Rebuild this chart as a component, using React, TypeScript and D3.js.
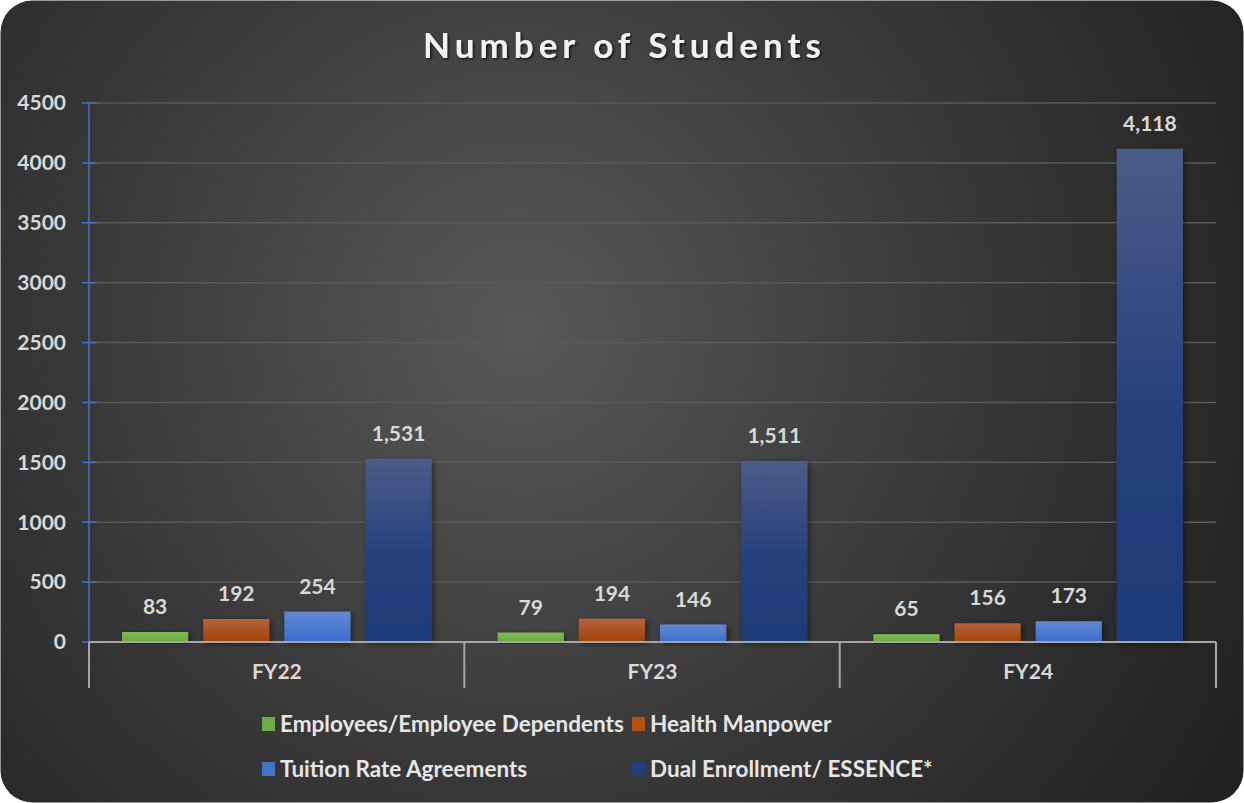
import React from "react";
import * as d3 from "d3";

const categories = ["FY22", "FY23", "FY24"];
const seriesNames = [
  "Employees/Employee Dependents",
  "Health Manpower",
  "Tuition Rate Agreements",
  "Dual Enrollment/ ESSENCE*",
];
const employees = [83, 79, 65];
const healthManpower = [192, 194, 156];
const tuition = [254, 146, 173];
const dualEnrollment = [1531, 1511, 4118];
const yTicks = [0, 500, 1000, 1500, 2000, 2500, 3000, 3500, 4000, 4500];

const seriesValues = [employees, healthManpower, tuition, dualEnrollment];
const gradIds = ["gGreen", "gOrange", "gBlue", "gNavy"];
const legendColors = ["#70ad47", "#b5520f", "#4472c4", "#203f7c"];

const W = 1244;
const H = 803;
const FONT = "Lato, 'Open Sans', sans-serif";

export default function App() {
  const x0 = d3.scaleBand().domain(categories).range([89, 1216]).paddingInner(0).paddingOuter(0);
  const x1 = d3
    .scaleBand()
    .domain(seriesNames)
    .range([33, x0.bandwidth() - 33])
    .paddingInner(0.185)
    .paddingOuter(0);
  const y = d3.scaleLinear().domain([0, 4500]).range([642, 103]);
  const fmt = d3.format(",");

  return (
    <svg
      width={W}
      height={H}
      style={{ position: "absolute", left: 0, top: 0, display: "block" }}
      fontFamily={FONT}
    >
      <defs>
        <radialGradient id="bg" cx="520" cy="330" r="820" gradientUnits="userSpaceOnUse">
          <stop offset="0" stopColor="#585858" />
          <stop offset="0.55" stopColor="#383838" />
          <stop offset="1" stopColor="#222222" />
        </radialGradient>
        <linearGradient id="gGreen" x1="0" y1="0" x2="0" y2="1">
          <stop offset="0" stopColor="#7fbb58" />
          <stop offset="1" stopColor="#6aa93c" />
        </linearGradient>
        <linearGradient id="gOrange" x1="0" y1="0" x2="0" y2="1">
          <stop offset="0" stopColor="#b4633d" />
          <stop offset="1" stopColor="#a24306" />
        </linearGradient>
        <linearGradient id="gBlue" x1="0" y1="0" x2="0" y2="1">
          <stop offset="0" stopColor="#6189d2" />
          <stop offset="1" stopColor="#3a6dcc" />
        </linearGradient>
        <linearGradient id="gNavy" x1="0" y1="0" x2="0" y2="1">
          <stop offset="0" stopColor="#4b5c88" />
          <stop offset="0.5" stopColor="#28427e" />
          <stop offset="1" stopColor="#1d3a78" />
        </linearGradient>
        <filter id="shadow" x="-20%" y="-20%" width="140%" height="140%">
          <feDropShadow dx="2" dy="2" stdDeviation="3" floodColor="#000" floodOpacity="0.5" />
        </filter>
        <filter id="tshadow" x="-10%" y="-30%" width="120%" height="160%">
          <feDropShadow dx="1.5" dy="1.5" stdDeviation="1.2" floodColor="#000" floodOpacity="0.7" />
        </filter>
      </defs>

      <rect x={0.5} y={0.5} width={W - 1} height={H - 1} rx={32} fill="url(#bg)" />

      <text
        x={624.5}
        y={58}
        textAnchor="middle"
        fill="#f2f2f2"
        fontSize={35}
        fontWeight={700}
        letterSpacing={5}
        filter="url(#tshadow)"
      >
        Number of Students
      </text>

      {/* gridlines */}
      {yTicks.map((t) => (
        <line key={"g" + t} x1={89} x2={1216} y1={y(t)} y2={y(t)} stroke="#5a5a5a" strokeWidth={1.5} />
      ))}

      {/* y axis */}
      <line x1={89} x2={89} y1={y(4500)} y2={y(0)} stroke="#4472c4" strokeWidth={1.5} />
      {yTicks.map((t) => (
        <g key={"t" + t}>
          <line x1={82} x2={97} y1={y(t)} y2={y(t)} stroke="#4472c4" strokeWidth={1.5} />
          <text
            x={66}
            y={y(t)}
            dy="0.35em"
            textAnchor="end"
            fill="#d9d9d9"
            fontSize={21}
            fontWeight={700}
          >
            {t}
          </text>
        </g>
      ))}

      {/* bars */}
      {categories.map((c, ci) => (
        <g key={c} transform={`translate(${x0(c)},0)`}>
          {seriesNames.map((s, si) => {
            const v = seriesValues[si][ci];
            const bx = x1(s)!;
            const bw = x1.bandwidth();
            return (
              <g key={s}>
                <rect
                  x={bx}
                  y={y(v)}
                  width={bw}
                  height={y(0) - y(v)}
                  fill={`url(#${gradIds[si]})`}
                  filter="url(#shadow)"
                />
                <text
                  x={bx + bw / 2}
                  y={y(v) - 18}
                  textAnchor="middle"
                  fill="#d9d9d9"
                  fontSize={21}
                  fontWeight={700}
                >
                  {fmt(v)}
                </text>
              </g>
            );
          })}
        </g>
      ))}

      {/* x axis */}
      <line x1={89} x2={1216} y1={642} y2={642} stroke="#a6a6a6" strokeWidth={2} />
      {[89, 464.3, 839.7, 1216].map((xv, i) => (
        <line key={"sep" + i} x1={xv} x2={xv} y1={642} y2={688} stroke="#a6a6a6" strokeWidth={2} />
      ))}
      {categories.map((c) => (
        <text
          key={"lbl" + c}
          x={x0(c)! + x0.bandwidth() / 2}
          y={672}
          dy="0.35em"
          textAnchor="middle"
          fill="#d9d9d9"
          fontSize={21}
          fontWeight={700}
        >
          {c}
        </text>
      ))}

      {/* legend */}
      {seriesNames.map((s, i) => {
        const lx = i % 2 === 0 ? 262 : 632;
        const ly = i < 2 ? 724 : 769;
        return (
          <g key={"leg" + s}>
            <rect x={lx} y={ly - 7} width={13} height={14} fill={legendColors[i]} />
            <text x={lx + 18} y={ly} dy="0.35em" fill="#e6e6e6" fontSize={22.5} fontWeight={700}>
              {s}
            </text>
          </g>
        );
      })}
    </svg>
  );
}
